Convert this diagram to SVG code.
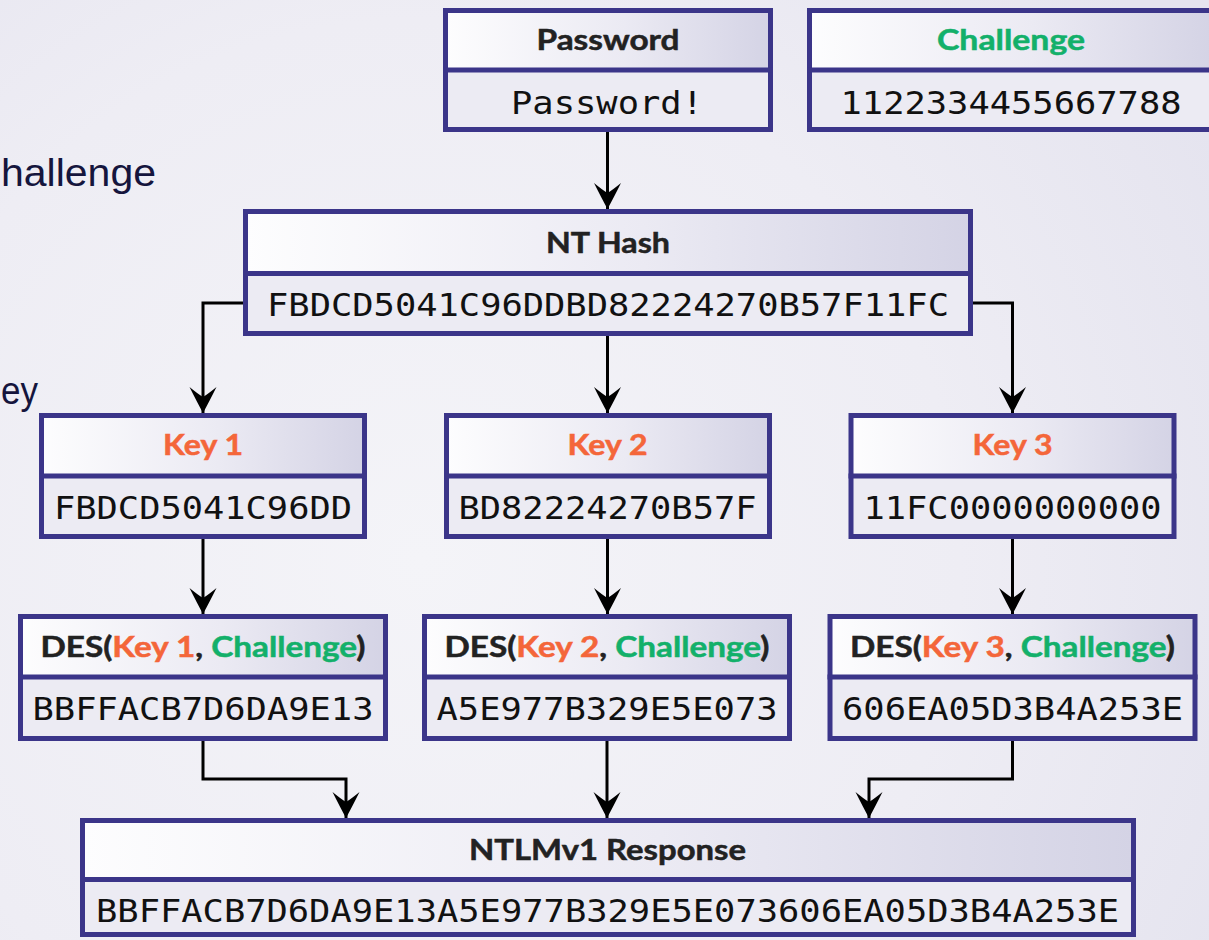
<svg xmlns="http://www.w3.org/2000/svg" width="1209" height="940" viewBox="0 0 1209 940">
  <defs>
    <radialGradient id="bg" cx="420" cy="560" r="900" gradientUnits="userSpaceOnUse">
      <stop offset="0" stop-color="#f4f4f8"/>
      <stop offset="0.6" stop-color="#eeedf4"/>
      <stop offset="1" stop-color="#e5e4ef"/>
    </radialGradient>
    <linearGradient id="hdr" x1="0" y1="0" x2="1" y2="0">
      <stop offset="0" stop-color="#fdfdfe"/>
      <stop offset="0.55" stop-color="#ebeaf3"/>
      <stop offset="1" stop-color="#d4d3e5"/>
    </linearGradient>
    <marker id="arr" markerUnits="userSpaceOnUse" markerWidth="30" markerHeight="30" refX="0" refY="0" orient="auto" overflow="visible">
      <path d="M0,0 Q-11,-6 -26,-13.5 Q-19,-5 -16,0 Q-19,5 -26,13.5 Q-11,6 0,0 Z" fill="#000"/>
    </marker>
  </defs>
  <style>
    .hd { fill: url(#hdr); }
    .bd { fill: #ecebf3; }
    .frame { fill: none; stroke: #3b3589; stroke-width: 5; }
    .div { stroke: #3b3589; stroke-width: 5; }
    .ht { font-family: Lato, "Open Sans", sans-serif; font-weight: 700; font-size: 28px; fill: #222222; stroke: #222222; stroke-width: 0.5; text-anchor: middle; }
    .mt { font-family: "DejaVu Sans Mono", "Liberation Mono", monospace; font-size: 32px; fill: #111111; text-anchor: middle; }
    .or { fill: #f4663a; stroke: #f4663a; }
    .gr { fill: #13b06a; stroke: #13b06a; }
    .side { font-family: "Liberation Sans", Arial, sans-serif; font-size: 38px; fill: #15153d; }
    .con { fill: none; stroke: #000; stroke-width: 3; }
  </style>

  <rect x="0" y="0" width="1209" height="940" fill="url(#bg)"/>

  <text class="side" x="1" y="186" textLength="155" lengthAdjust="spacingAndGlyphs">hallenge</text>
  <text class="side" x="1" y="404" font-size="42" textLength="37" lengthAdjust="spacingAndGlyphs">ey</text>

  <g id="connectors">
    <path class="con" d="M607.5,132 V209" marker-end="url(#arr)"/>
    <path class="con" d="M243,303 H203 V413" marker-end="url(#arr)"/>
    <path class="con" d="M607.5,336 V413" marker-end="url(#arr)"/>
    <path class="con" d="M973,303 H1012.5 V413" marker-end="url(#arr)"/>
    <path class="con" d="M203,539 V614" marker-end="url(#arr)"/>
    <path class="con" d="M607.5,539 V614" marker-end="url(#arr)"/>
    <path class="con" d="M1012.5,539 V614" marker-end="url(#arr)"/>
    <path class="con" d="M203,741 V779 H346 V818" marker-end="url(#arr)"/>
    <path class="con" d="M607,741 V818" marker-end="url(#arr)"/>
    <path class="con" d="M1012.5,741 V779 H869 V818" marker-end="url(#arr)"/>
  </g>

  <g id="password">
    <rect class="hd" x="445" y="10" width="326" height="60"/>
    <rect class="bd" x="445" y="70" width="326" height="60"/>
    <rect class="frame" x="445.5" y="10.5" width="325" height="119"/>
    <line class="div" x1="443" y1="70" x2="773" y2="70"/>
    <text class="ht" x="608" y="49.5" textLength="143" lengthAdjust="spacingAndGlyphs">Password</text>
    <text class="mt" x="607" y="114" textLength="192" lengthAdjust="spacingAndGlyphs">Password!</text>
  </g>

  <g id="challenge">
    <rect class="hd" x="809" y="10" width="406" height="60"/>
    <rect class="bd" x="809" y="70" width="406" height="60"/>
    <rect class="frame" x="809.5" y="10.5" width="405" height="119"/>
    <line class="div" x1="807" y1="70" x2="1217" y2="70"/>
    <text class="ht gr" x="1011" y="49.5" textLength="148" lengthAdjust="spacingAndGlyphs">Challenge</text>
    <text class="mt" x="1011" y="114" textLength="341" lengthAdjust="spacingAndGlyphs">1122334455667788</text>
  </g>

  <g id="nthash">
    <rect class="hd" x="245" y="211" width="726" height="62"/>
    <rect class="bd" x="245" y="273" width="726" height="61"/>
    <rect class="frame" x="245.5" y="211.5" width="725" height="122"/>
    <line class="div" x1="243" y1="273.5" x2="973" y2="273.5"/>
    <text class="ht" x="608" y="253" textLength="124" lengthAdjust="spacingAndGlyphs">NT Hash</text>
    <text class="mt" x="608" y="316" textLength="682" lengthAdjust="spacingAndGlyphs">FBDCD5041C96DDBD82224270B57F11FC</text>
  </g>

  <g id="key1">
    <rect class="hd" x="41" y="415" width="324" height="61"/>
    <rect class="bd" x="41" y="476" width="324" height="61"/>
    <rect class="frame" x="41.5" y="415.5" width="323" height="121"/>
    <line class="div" x1="39" y1="476" x2="367" y2="476"/>
    <text class="ht or" x="203" y="455" textLength="80" lengthAdjust="spacingAndGlyphs">Key 1</text>
    <text class="mt" x="203" y="519" textLength="298" lengthAdjust="spacingAndGlyphs">FBDCD5041C96DD</text>
  </g>

  <g id="key2">
    <rect class="hd" x="446" y="415" width="324" height="61"/>
    <rect class="bd" x="446" y="476" width="324" height="61"/>
    <rect class="frame" x="446.5" y="415.5" width="323" height="121"/>
    <line class="div" x1="444" y1="476" x2="772" y2="476"/>
    <text class="ht or" x="607.5" y="455" textLength="80" lengthAdjust="spacingAndGlyphs">Key 2</text>
    <text class="mt" x="607.5" y="519" textLength="298" lengthAdjust="spacingAndGlyphs">BD82224270B57F</text>
  </g>

  <g id="key3">
    <rect class="hd" x="850.5" y="415" width="324" height="61"/>
    <rect class="bd" x="850.5" y="476" width="324" height="61"/>
    <rect class="frame" x="851" y="415.5" width="323" height="121"/>
    <line class="div" x1="848.5" y1="476" x2="1176.5" y2="476"/>
    <text class="ht or" x="1012.5" y="455" textLength="80" lengthAdjust="spacingAndGlyphs">Key 3</text>
    <text class="mt" x="1012.5" y="519" textLength="298" lengthAdjust="spacingAndGlyphs">11FC0000000000</text>
  </g>

  <g id="des1">
    <rect class="hd" x="20" y="616" width="366" height="61"/>
    <rect class="bd" x="20" y="677" width="366" height="62"/>
    <rect class="frame" x="20.5" y="616.5" width="365" height="122"/>
    <line class="div" x1="18" y1="677" x2="388" y2="677"/>
    <text class="ht" x="203" y="656.5" textLength="325" lengthAdjust="spacingAndGlyphs">DES(<tspan class="or">Key 1</tspan>, <tspan class="gr">Challenge</tspan>)</text>
    <text class="mt" x="203" y="720" textLength="341" lengthAdjust="spacingAndGlyphs">BBFFACB7D6DA9E13</text>
  </g>

  <g id="des2">
    <rect class="hd" x="424" y="616" width="366" height="61"/>
    <rect class="bd" x="424" y="677" width="366" height="62"/>
    <rect class="frame" x="424.5" y="616.5" width="365" height="122"/>
    <line class="div" x1="422" y1="677" x2="792" y2="677"/>
    <text class="ht" x="607" y="656.5" textLength="325" lengthAdjust="spacingAndGlyphs">DES(<tspan class="or">Key 2</tspan>, <tspan class="gr">Challenge</tspan>)</text>
    <text class="mt" x="607" y="720" textLength="341" lengthAdjust="spacingAndGlyphs">A5E977B329E5E073</text>
  </g>

  <g id="des3">
    <rect class="hd" x="829.5" y="616" width="366" height="61"/>
    <rect class="bd" x="829.5" y="677" width="366" height="62"/>
    <rect class="frame" x="830" y="616.5" width="365" height="122"/>
    <line class="div" x1="827.5" y1="677" x2="1197.5" y2="677"/>
    <text class="ht" x="1012.5" y="656.5" textLength="325" lengthAdjust="spacingAndGlyphs">DES(<tspan class="or">Key 3</tspan>, <tspan class="gr">Challenge</tspan>)</text>
    <text class="mt" x="1012.5" y="720" textLength="341" lengthAdjust="spacingAndGlyphs">606EA05D3B4A253E</text>
  </g>

  <g id="response">
    <rect class="hd" x="82" y="820" width="1052" height="60"/>
    <rect class="bd" x="82" y="880" width="1052" height="55"/>
    <rect class="frame" x="82.5" y="820.5" width="1051" height="114"/>
    <line class="div" x1="80" y1="879.5" x2="1136" y2="879.5"/>
    <text class="ht" x="607.5" y="860" textLength="277" lengthAdjust="spacingAndGlyphs">NTLMv1 Response</text>
    <text class="mt" x="607.5" y="922" textLength="1023" lengthAdjust="spacingAndGlyphs">BBFFACB7D6DA9E13A5E977B329E5E073606EA05D3B4A253E</text>
  </g>
</svg>
